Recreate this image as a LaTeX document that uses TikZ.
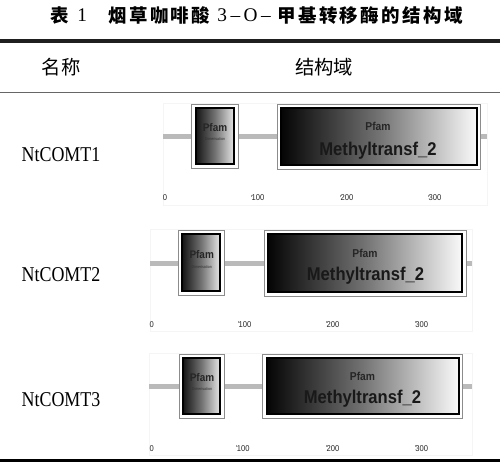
\documentclass[tikz,border=0pt]{standalone}
\usepackage{fontspec}
\setmainfont{Liberation Serif}
\newfontfamily\cjkfont{Noto Sans CJK SC}
\newfontfamily\cjktitle{Noto Sans CJK SC}[LetterSpace=13]
\newfontfamily\arialfont{Liberation Sans}[FakeStretch=0.9]
\newfontfamily\namefont{Liberation Serif}[FakeStretch=0.85]
\usetikzlibrary{fit}

\begin{document}
\begin{tikzpicture}[
    x=0.02cm, y=-0.02cm, % one unit = one pixel of the reference
    caption/.style={inner sep=0pt, font=\fontsize{10.5}{12}\cjktitle\bfseries},
    captionnum/.style={inner sep=0pt, font=\fontsize{11}{12}\rmfamily},
    headcjk/.style={inner sep=0pt, font=\fontsize{11}{13}\cjkfont},
    rowname/.style={inner sep=0pt, anchor=base, font=\fontsize{12}{14}\namefont},
    toprule/.style={line width=1.8pt, draw=black!88},
    midrule/.style={line width=0.9pt, draw=black!60},
    panel/.style={draw=black!4, line width=0.4pt},
    backbone/.style={line width=3pt, draw=black!27},
    domainbox/.style={draw=black!45, line width=0.4pt, fill=white, inner sep=0pt,
        path picture={
            \shade[left color=black, right color=white, middle color=black!55]
                ([shift={(2.2pt,-2.2pt)}]path picture bounding box.north west) rectangle
                ([shift={(-2.2pt,2.2pt)}]path picture bounding box.south east);
            \draw[draw=black, line width=1.2pt]
                ([shift={(2.2pt,-2.2pt)}]path picture bounding box.north west) rectangle
                ([shift={(-2.2pt,2.2pt)}]path picture bounding box.south east);
        }},
    pfamsmall/.style={inner sep=0pt, anchor=base, text=black!85, font=\fontsize{6.3}{7}\arialfont\bfseries},
    pfambig/.style={inner sep=0pt, anchor=base, text=black!85, font=\fontsize{6.5}{7.5}\arialfont\bfseries},
    subname/.style={inner sep=0pt, text=black!80, font=\fontsize{2.3}{3}\arialfont},
    mtname/.style={inner sep=0pt, anchor=base, text=black!90, font=\fontsize{10.5}{12}\arialfont\bfseries},
    axisnum/.style={inner sep=0pt, text=black!85, font=\fontsize{4.8}{5.5}\arialfont},
    tickline/.style={draw=black!40, line width=0.3pt}
]

% page
\useasboundingbox (0,0) rectangle (500,466);
\fill[white] (0,0) rectangle (500,466);

% caption
\node[caption, anchor=west] (tabno) at (50,15.5) {表};
\node[captionnum, anchor=west] (tabnum) at (77,15.5) {1};
\node[caption, anchor=west] (title) at (108,15.5) {烟草咖啡酸};
\node[captionnum, anchor=west] (titlemid) at (217,15.5) {3\hspace{2pt}–\hspace{2pt}O\hspace{2pt}–};
\node[caption, anchor=east] (titleend) at (463,15.5) {甲基转移酶的结构域};

% table head
\draw[toprule] (0,41) -- (500,41);
\node[headcjk] (namehead) at (61,67) {名称};
\node[headcjk] (domhead) at (324,67) {结构域};
\draw[midrule] (0,92.3) -- (500,92.3);

% NtCOMT1
\node[rowname] (name1) at (61,161.7) {NtCOMT1};
\draw[panel] (163,103) rectangle (487,205);
\coordinate (bb1s) at (163,136.7);
\coordinate (bb1e) at (487,136.7);
\draw[backbone] (bb1s) -- (bb1e);
\node[domainbox, fit={(191.7,104) (238.3,168)}] (dim1) {};
\node[domainbox, fit={(277,104) (480.7,169)}] (mt1) {};
\node[pfamsmall] (dim1p) at (215,131.7) {Pfam};
\node[subname] (dim1s) at (215,139) {Dimerisation};
\node[pfambig] (mt1p) at (378,130.7) {Pfam};
\node[mtname] (mt1n) at (378,155) {Methyltransf\_2};
\node[axisnum] (r1a0) at (165,198) {0};
\node[axisnum] (r1a1) at (258,198) {100};
\node[axisnum] (r1a2) at (347,198) {200};
\node[axisnum] (r1a3) at (435,198) {300};
\draw[tickline] (r1a1.north west) -- ++(0,2.5);
\draw[tickline] (r1a2.north west) -- ++(0,2.5);
\draw[tickline] (r1a3.north west) -- ++(0,2.5);

% NtCOMT2
\node[rowname] (name2) at (61,281.7) {NtCOMT2};
\draw[panel] (150,229) rectangle (472,331);
\coordinate (bb2s) at (150,263.3);
\coordinate (bb2e) at (471.7,263.3);
\draw[backbone] (bb2s) -- (bb2e);
\node[domainbox, fit={(178.3,230) (224,295)}] (dim2) {};
\node[domainbox, fit={(264,230) (466,296)}] (mt2) {};
\node[pfamsmall] (dim2p) at (201.7,258.3) {Pfam};
\node[subname] (dim2s) at (201.7,266.7) {Dimerisation};
\node[pfambig] (mt2p) at (365,257.3) {Pfam};
\node[mtname] (mt2n) at (365.5,280) {Methyltransf\_2};
\node[axisnum] (r2a0) at (151.7,324.3) {0};
\node[axisnum] (r2a1) at (245,324.3) {100};
\node[axisnum] (r2a2) at (333,324.3) {200};
\node[axisnum] (r2a3) at (421.7,324.3) {300};
\draw[tickline] (r2a1.north west) -- ++(0,2.5);
\draw[tickline] (r2a2.north west) -- ++(0,2.5);
\draw[tickline] (r2a3.north west) -- ++(0,2.5);

% NtCOMT3
\node[rowname] (name3) at (61,406.7) {NtCOMT3};
\draw[panel] (149,353) rectangle (472,455);
\coordinate (bb3s) at (149,386.7);
\coordinate (bb3e) at (472,386.7);
\draw[backbone] (bb3s) -- (bb3e);
\node[domainbox, fit={(179,354) (224,418)}] (dim3) {};
\node[domainbox, fit={(262.7,354) (462.7,418)}] (mt3) {};
\node[pfamsmall] (dim3p) at (202,381.7) {Pfam};
\node[subname] (dim3s) at (202,389) {Dimerisation};
\node[pfambig] (mt3p) at (362.5,380.7) {Pfam};
\node[mtname] (mt3n) at (362.5,403.3) {Methyltransf\_2};
\node[axisnum] (r3a0) at (151.7,448.3) {0};
\node[axisnum] (r3a1) at (243.3,448.3) {100};
\node[axisnum] (r3a2) at (333,448.3) {200};
\node[axisnum] (r3a3) at (421.7,448.3) {300};
\draw[tickline] (r3a1.north west) -- ++(0,2.5);
\draw[tickline] (r3a2.north west) -- ++(0,2.5);
\draw[tickline] (r3a3.north west) -- ++(0,2.5);

% bottom rule
\draw[toprule, draw=black] (0,460.5) -- (500,460.5);
\end{tikzpicture}
\end{document}
